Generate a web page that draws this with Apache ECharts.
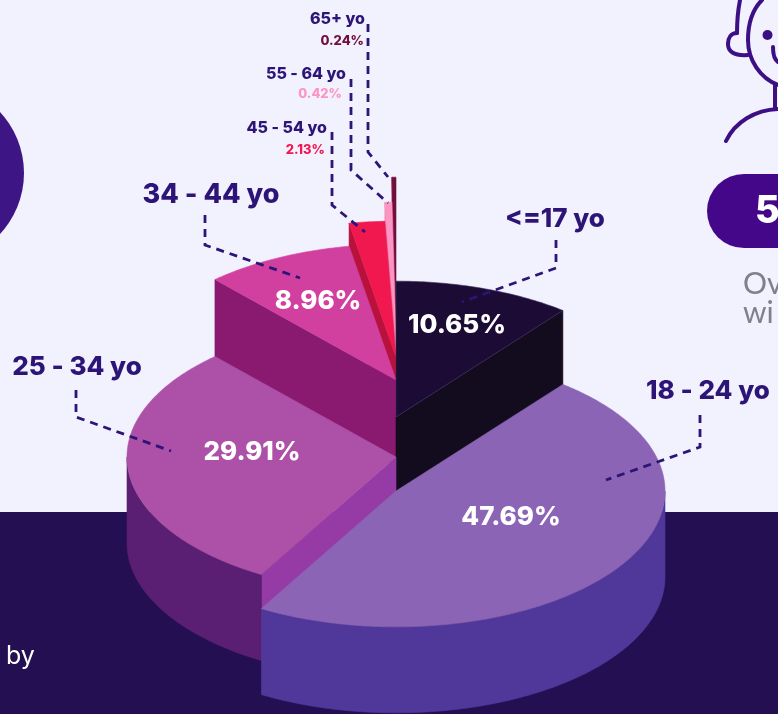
<!DOCTYPE html>
<html>
<head>
<meta charset="utf-8">
<title>Age split</title>
<script src="https://cdn.jsdelivr.net/npm/echarts@6/dist/echarts.min.js"></script>
<style>
  html, body { margin: 0; padding: 0; background: #f2f1fe; }
  #chart { width: 778px; height: 714px; }
</style>
</head>
<body>
<div id="chart"></div>
<script>
// data
var categories = ['<=17 yo', '18 - 24 yo', '25 - 34 yo', '34 - 44 yo', '45 - 54 yo', '55 - 64 yo', '65+ yo'];
var shares = [10.65, 47.69, 29.91, 8.96, 2.13, 0.42, 0.24];

// colours per slice
var topColors = ['#1c0c35', '#8c64b5', '#ac50a8', '#d2409f', '#f1174f', '#fd94c4', '#6e0f3c'];
var cutColors = ['#120c1e', '#50389b', '#963aa5', '#8a1a70', '#b8123c', '#e889b0', '#8c0f3a'];
var wallColors = ['#120c1e', '#50389b', '#5a1e72', '#8a1a70', '#b8123c', '#e889b0', '#8c0f3a'];

// layout per slice: how far each wedge is lifted, drawing order, label spots
var lifts = [74, 0, 34, 111, 134, 153, 178];
var layers = [4, 6, 5, 3, 2, 1, 0];
var bigLabels = { 0: [457, 325], 1: [511, 517], 2: [252, 452], 3: [318, 301] };
var titleSpots = [
  [555, 219, 'center', 26], [708, 391, 'center', 26], [77, 367, 'center', 26], [211, 195, 'center', 27],
  [327, 128, 'right', 16], [346, 74, 'right', 16], [365, 19, 'right', 16]
];
var smallSpots = { 4: [325, 150], 5: [342, 94], 6: [364, 41] };
var leaders = [
  [[556, 240], [556, 268], [462, 302]],
  [[700, 415], [700, 447], [606, 480]],
  [[76, 390], [76, 417], [171, 451]],
  [[205, 215], [205, 245], [300, 278]],
  [[332, 132], [332, 205], [365, 232]],
  [[351, 79], [351, 170], [388, 203]],
  [[368, 24], [368, 152], [388, 177]]
];

var FONT = 'Inter, "Open Sans", sans-serif';
var INK = '#2d1477';
var CENTER_X = 396, CENTER_Y = 491, RADIUS = 269, SQUASH = 0.505, DEPTH = 86;

var starts = [];
shares.reduce(function (sum, v, i) { starts[i] = sum; return sum + v; }, 0);

function renderSlice(params, api) {
  var i = params.dataIndex;
  var from = starts[i], to = from + shares[i];
  var lift = lifts[i];

  // polar point from the angle axis, flattened into the tilted disc
  function pt(pos, drop) {
    var p = api.coord([1, pos]);
    return [p[0], CENTER_Y + (p[1] - CENTER_Y) * SQUASH - lift + (drop || 0)];
  }
  function apex(drop) {
    var p = api.coord([0, 0]);
    return [p[0], CENTER_Y - lift + (drop || 0)];
  }
  function arc(a, b, drop) {
    var pts = [], step = 0.2;
    for (var t = a; t < b; t += step) { pts.push(pt(t, drop)); }
    pts.push(pt(b, drop));
    return pts;
  }
  function poly(points, fill, z, stroke) {
    return {
      type: 'polygon', z2: layers[i] * 10 + z,
      shape: { points: points },
      style: { fill: fill, stroke: stroke || fill, lineWidth: 0.6 }
    };
  }
  function cut(pos) {
    return poly([apex(), pt(pos), pt(pos, DEPTH), apex(DEPTH)], cutColors[i], 1);
  }

  var children = [];
  // which cut faces look towards the viewer
  if (from > 50 && from < 100) { children.push(cut(from)); }
  if (to > 0 && to < 50) { children.push(cut(to)); }

  // outer wall, front half of the rim only
  var a = Math.max(from, 25), b = Math.min(to, 75);
  if (a < b) {
    children.push(poly(arc(a, b).concat(arc(a, b, DEPTH).reverse()), wallColors[i], 2));
  }

  // top
  var topStroke = i === 0 ? '#3a2d5c' : null;
  children.push(poly([apex()].concat(arc(from, to)), topColors[i], 3, topStroke));

  if (bigLabels[i]) {
    children.push({
      type: 'text', z2: 200, x: bigLabels[i][0], y: bigLabels[i][1],
      style: {
        text: shares[i].toFixed(2) + '%', fill: '#ffffff', font: '800 26px ' + FONT,
        align: 'center', verticalAlign: 'middle'
      }
    });
  }
  return { type: 'group', children: children };
}

var decor = [
  { type: 'rect', z: 0, shape: { x: 0, y: 512, width: 778, height: 202 }, style: { fill: '#230f52' } },
  { type: 'circle', z: 0, shape: { cx: -65.5, cy: 173, r: 89.5 }, style: { fill: '#3d1585' } },
  { type: 'rect', z: 0, shape: { x: 707, y: 174, width: 120, height: 74, r: 37 }, style: { fill: '#45078a' } },
  { type: 'text', z: 0, x: 755, y: 212, style: { text: '5', fill: '#ffffff', font: '800 38px ' + FONT, verticalAlign: 'middle' } },
  { type: 'text', z: 0, x: 743, y: 284, style: { text: 'Ov', fill: '#80808c', font: '400 30px Lato, ' + FONT, verticalAlign: 'middle' } },
  { type: 'text', z: 0, x: 743, y: 313, style: { text: 'wi', fill: '#80808c', font: '400 30px Lato, ' + FONT, verticalAlign: 'middle' } },
  { type: 'text', z: 0, x: 6, y: 656, style: { text: 'by', fill: '#ffffff', font: '400 25px ' + FONT, verticalAlign: 'middle' } }
];

// little head icon, top right
[
  [762, 0, 752, 10, 748, 25, 748, 40],
  [748, 40, 748, 60, 760, 78, 778, 85],
  [740, 0, 738, 10, 737, 22, 737, 33],
  [737, 33, 731, 33, 728, 38, 728, 44],
  [728, 44, 728, 51, 733, 56, 748, 55],
  [775, 85, 775, 92, 775, 100, 775, 108],
  [778, 109, 755, 110, 735, 122, 726, 141],
  [773, 47, 773, 54, 775, 60, 778, 62]
].forEach(function (c) {
  decor.push({
    type: 'bezierCurve', z: 0,
    shape: { x1: c[0], y1: c[1], cpx1: c[2], cpy1: c[3], cpx2: c[4], cpy2: c[5], x2: c[6], y2: c[7] },
    style: { fill: null, stroke: '#3d0f85', lineWidth: 4, lineCap: 'round' }
  });
});
decor.push({ type: 'circle', z: 0, shape: { cx: 767.5, cy: 35, r: 5 }, style: { fill: '#3d0f85' } });

leaders.forEach(function (line) {
  decor.push({
    type: 'polyline', z: 50,
    shape: { points: line },
    style: { fill: null, stroke: INK, lineWidth: 2.8, lineDash: [8, 6] }
  });
});

categories.forEach(function (name, i) {
  var s = titleSpots[i];
  decor.push({
    type: 'text', z: 60, x: s[0], y: s[1],
    style: { text: name, fill: INK, font: '800 ' + s[3] + 'px ' + FONT, align: s[2], verticalAlign: 'middle' }
  });
  if (smallSpots[i]) {
    decor.push({
      type: 'text', z: 60, x: smallSpots[i][0], y: smallSpots[i][1],
      style: { text: shares[i].toFixed(2) + '%', fill: topColors[i], font: '800 13px ' + FONT, align: 'right', verticalAlign: 'middle' }
    });
  }
});

var myChart = echarts.init(document.getElementById('chart'));
myChart.setOption({
  backgroundColor: '#f2f1fe',
  animation: false,
  polar: { center: [CENTER_X, CENTER_Y], radius: RADIUS },
  angleAxis: { type: 'value', min: 0, max: 100, startAngle: 90, show: false },
  radiusAxis: { type: 'value', min: 0, max: 1, show: false },
  graphic: decor,
  series: [{
    type: 'custom',
    coordinateSystem: 'polar',
    z: 10,
    renderItem: renderSlice,
    encode: { radius: 0, angle: 1 },
    data: shares.map(function (v, i) { return [1, starts[i]]; })
  }]
});
</script>
</body>
</html>
